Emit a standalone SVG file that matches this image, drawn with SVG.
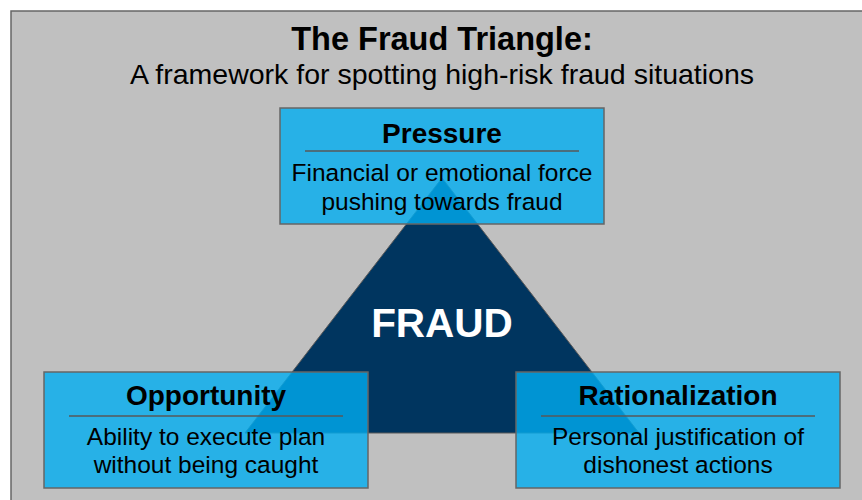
<svg xmlns="http://www.w3.org/2000/svg" width="862" height="500" viewBox="0 0 862 500">
<style>
text{font-family:"Liberation Sans",Arial,sans-serif;text-anchor:middle;fill:#000}
.box{fill:#00ADF0;fill-opacity:0.8;stroke:#666;stroke-width:1.5}
.sep{stroke:#595959;stroke-width:1.5}
.h{font-weight:bold;font-size:28px}
.b{font-size:24.5px}
</style>
<rect x="0" y="0" width="862" height="500" fill="#fff"/>
<rect x="11" y="11" width="860" height="500" fill="#C0C0C0" stroke="#666" stroke-width="1.5"/>
<g id="title">
<text x="442" y="50" style="font-weight:bold;font-size:32.5px">The Fraud Triangle:</text>
<text x="442" y="84" style="font-size:28.5px">A framework for spotting high-risk fraud situations</text>
</g>
<g id="triangle">
<polygon points="442,178 245,433 639,433" fill="#00355F" stroke="#595959" stroke-width="1"/>
<text x="442" y="337" style="font-weight:bold;font-size:40.5px;fill:#fff">FRAUD</text>
</g>
<g id="connectors"></g>
<g id="pressure">
<rect class="box" x="280" y="108" width="324" height="116"/>
<text class="h" x="442" y="143">Pressure</text>
<line class="sep" x1="305" y1="151" x2="579" y2="151"/>
<text class="b" x="442" y="181">Financial or emotional force</text>
<text class="b" x="442" y="210">pushing towards fraud</text>
</g>
<g id="opportunity">
<rect class="box" x="44" y="372" width="324" height="116"/>
<text class="h" x="206" y="405">Opportunity</text>
<line class="sep" x1="69" y1="416" x2="343" y2="416"/>
<text class="b" x="206" y="445">Ability to execute plan</text>
<text class="b" x="206" y="473">without being caught</text>
</g>
<g id="rationalization">
<rect class="box" x="516" y="372" width="324" height="116"/>
<text class="h" x="678" y="405">Rationalization</text>
<line class="sep" x1="541" y1="416" x2="815" y2="416"/>
<text class="b" x="678" y="445">Personal justification of</text>
<text class="b" x="678" y="473">dishonest actions</text>
</g>
</svg>
